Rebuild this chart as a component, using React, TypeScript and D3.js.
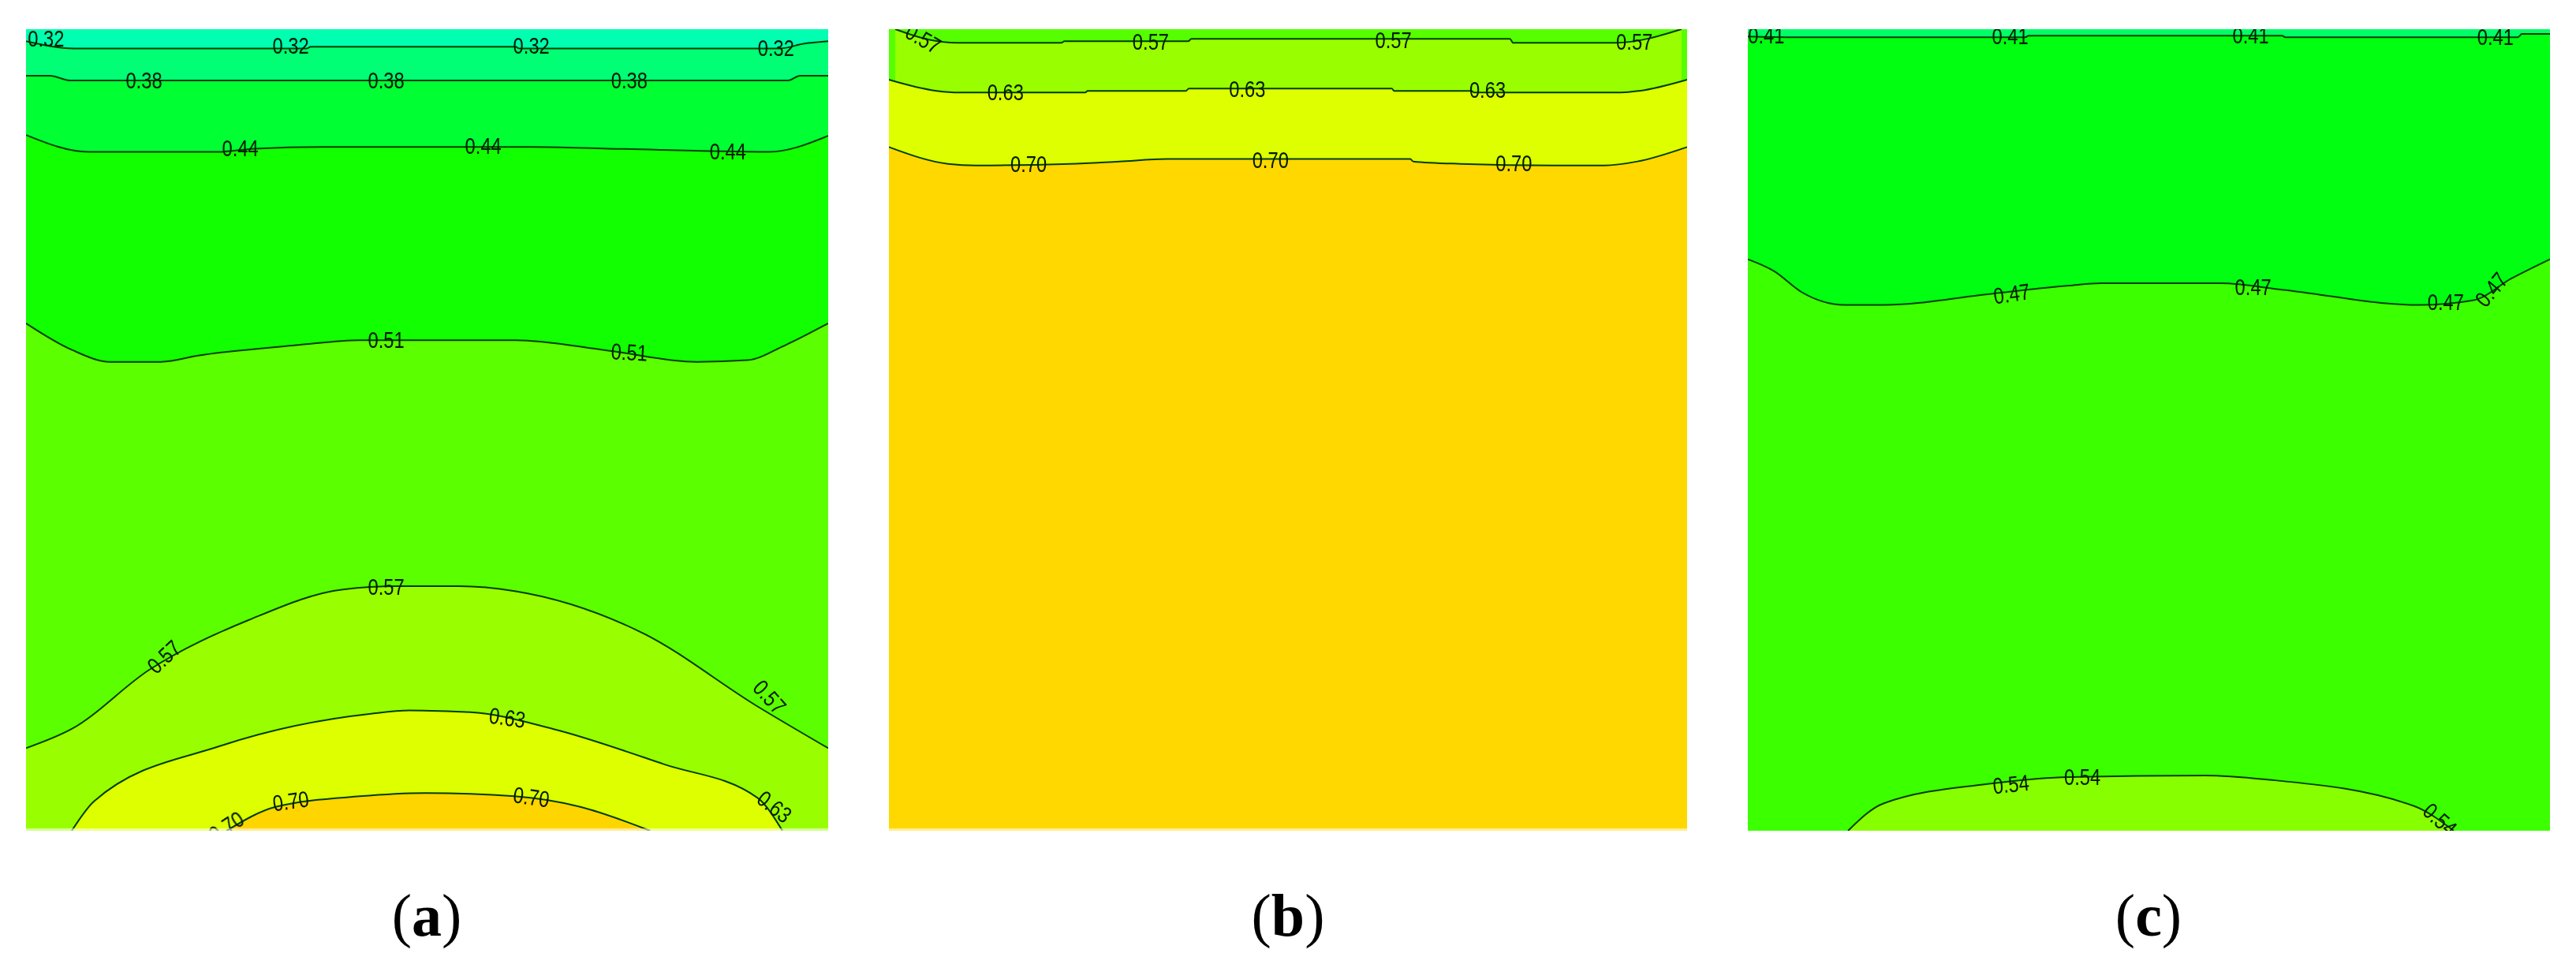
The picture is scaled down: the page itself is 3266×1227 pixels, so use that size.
import React, { useEffect, useRef } from "react";
import * as d3 from "d3";

type Pt = [number, number];
// label: x %, y %, rotation
type Lbl = [number, number, number];

const WIDTH = 3266;
const HEIGHT = 1227;

const a032: Pt[] = [[0, 1.5], [6, 2.4], [35, 2.4], [35.5, 2.2], [61, 2.2], [61.5, 2.4], [94, 2.4], [97, 1.8], [100, 1.5]];
const a038: Pt[] = [[0, 5.8], [3, 5.8], [5.5, 6.4], [95, 6.4], [96.5, 5.8], [100, 5.8]];
const a044: Pt[] = [[0, 13.2], [7.8, 15.3], [24, 15.3], [28.5, 14.9], [37, 14.7], [63, 14.7], [72.6, 14.9], [92.6, 15.3], [100, 13.3]];
const a051: Pt[] = [[0, 36.7], [5.7, 40], [10.5, 41.5], [16.8, 41.5], [21.6, 40.7], [34, 39.4], [41.6, 38.8], [61, 38.8], [72.6, 40.1], [83.6, 41.5], [89.9, 41.3], [94.7, 39.4], [100, 36.7]];
const a057: Pt[] = [[0, 89.7], [5.7, 87.3], [15.4, 79.9], [27.8, 73.7], [39.5, 69.9], [46.4, 69.5], [54, 69.5], [60.9, 70.1], [76.8, 75.3], [91.2, 84.5], [100, 89.7]];
const a063: Pt[] = [[5.7, 100], [8.5, 96.3], [24.3, 89.4], [43, 85.4], [47.8, 85], [55.4, 85.2], [65.7, 87.3], [79.5, 91.7], [91.2, 95.9], [94.3, 100]];
const a070: Pt[] = [[25, 100], [31.2, 97], [41.6, 95.7], [49.9, 95.3], [60.9, 95.7], [69, 97], [77.8, 100]];

const b057: Pt[] = [[0.8, 0], [5, 1.3], [8.5, 1.7], [21.6, 1.7], [22, 1.5], [37.5, 1.5], [37.9, 1.2], [77.8, 1.2], [78.2, 1.7], [91, 1.7], [99.3, 0]];
const b063: Pt[] = [[0, 6.3], [6, 7.7], [8.8, 7.9], [24.6, 7.9], [24.9, 7.7], [37.2, 7.7], [37.6, 7.4], [63, 7.4], [63.3, 7.7], [73, 7.7], [73.3, 7.9], [91.7, 7.9], [94, 7.7], [100, 6.3]];
const b070: Pt[] = [[0, 14.7], [7.4, 16.8], [10.9, 17], [22.7, 16.8], [28.9, 16.5], [34.8, 16.2], [65.3, 16.2], [65.7, 16.5], [71.6, 16.8], [83.3, 17], [89.6, 17], [93.8, 16.5], [100, 14.7]];

const c041: Pt[] = [[0, 0.9], [6, 1], [34.6, 1], [35, 0.8], [66.6, 0.8], [67, 1], [96, 1], [96.5, 0.6], [100, 0.6]];
const c047: Pt[] = [[0, 28.7], [3.3, 30.2], [6.7, 32.8], [12.1, 34.4], [16.9, 34.4], [30.5, 33], [40, 32], [44, 31.7], [59, 31.7], [66.6, 32.5], [83.7, 34.4], [90.5, 33.8], [95.2, 31.1], [100, 28.7]];
const c054: Pt[] = [[12.5, 100], [16.9, 96.6], [30.5, 94.1], [40, 93.3], [57, 93.1], [64.6, 93.6], [83, 96.9], [88, 100]];

const levelsA = ["0.32", "0.38", "0.44", "0.51", "0.57", "0.63", "0.70"];
const levelsB = ["0.57", "0.63", "0.70"];
const levelsC = ["0.41", "0.47", "0.54"];

// first colour is what sits above the first contour
const coloursA = ["#00ffb0", "#00ff75", "#00ff33", "#11ff00", "#5cff00", "#99ff00", "#ddff00", "#ffd500"];
const coloursB = ["#55ff00", "#99ff00", "#ddff00", "#ffd800"];
const coloursC = ["#00ff66", "#00ff11", "#3cff00", "#88ff00"];

const labelsA: Lbl[][] = [
  [[2.5, 1.2, 0], [33, 2.1, 0], [63, 2.1, 0], [93.5, 2.4, 0]],
  [[14.7, 6.4, 0], [44.9, 6.4, 0], [75.2, 6.4, 0]],
  [[26.7, 14.9, 0], [57, 14.6, 0], [87.5, 15.2, 0]],
  [[44.9, 38.8, 0], [75.2, 40.3, 3]],
  [[44.9, 69.6, 0], [17.2, 78.3, -43], [92.7, 83.3, 48]],
  [[60, 85.9, 8], [93.3, 97, 38]],
  [[33, 96.3, -8], [63, 95.8, 8], [25, 99.5, -33]],
];
const labelsB: Lbl[][] = [
  [[4.3, 1.2, 30], [32.8, 1.6, 0], [63.2, 1.4, 0], [93.4, 1.6, 0]],
  [[14.6, 7.9, 0], [44.9, 7.5, 0], [75, 7.6, 0]],
  [[17.5, 16.8, 0], [47.8, 16.3, 0], [78.3, 16.7, 0]],
];
const labelsC: Lbl[][] = [
  [[2.3, 0.8, 0], [32.7, 0.9, 0], [62.7, 0.8, 0], [93.2, 1, 0]],
  [[32.9, 33, -8], [63, 32.2, 0], [87, 34, 0], [92.7, 32.5, -50]],
  [[32.8, 94.2, -6], [41.7, 93.3, 0], [86.3, 98.6, 42]],
];

const panels = [
  { id: "a", left: 33, right: 1050, levels: levelsA, colours: coloursA, labels: labelsA, lines: [a032, a038, a044, a051, a057, a063, a070], cx: 541, pale: true },
  { id: "b", left: 1127, right: 2139, levels: levelsB, colours: coloursB, labels: labelsB, lines: [b057, b063, b070], cx: 1633, pale: true },
  { id: "c", left: 2216, right: 3233, levels: levelsC, colours: coloursC, labels: labelsC, lines: [c041, c047, c054], cx: 2724, pale: false },
];

const App: React.FC = () => {
  const svgRef = useRef<SVGSVGElement | null>(null);

  useEffect(() => {
    if (!svgRef.current) return;
    const svg = d3.select(svgRef.current);
    svg.selectAll("*").remove();

    const top = 37;
    const bottom = 1053;
    const y = d3.scaleLinear().domain([0, 100]).range([top, bottom]);

    const defs = svg.append("defs");
    defs
      .append("filter")
      .attr("id", "soft")
      .append("feGaussianBlur")
      .attr("stdDeviation", 0.6);

    panels.forEach((p) => {
      const x = d3.scaleLinear().domain([0, 100]).range([p.left, p.right]);

      defs
        .append("clipPath")
        .attr("id", `clip-${p.id}`)
        .append("rect")
        .attr("x", p.left)
        .attr("y", top)
        .attr("width", p.right - p.left)
        .attr("height", bottom - top);

      const g = svg.append("g").attr("clip-path", `url(#clip-${p.id})`);

      g.append("rect")
        .attr("x", p.left)
        .attr("y", top)
        .attr("width", p.right - p.left)
        .attr("height", bottom - top)
        .attr("fill", p.colours[0]);

      // each band runs from its contour down to the panel bottom, drawn top first
      const area = d3
        .area<Pt>()
        .curve(d3.curveMonotoneX)
        .x((d) => x(d[0]))
        .y0(bottom)
        .y1((d) => y(d[1]));
      const line = d3
        .line<Pt>()
        .curve(d3.curveMonotoneX)
        .x((d) => x(d[0]))
        .y((d) => y(d[1]));

      p.lines.forEach((pts, i) => {
        g.append("path").datum(pts).attr("fill", p.colours[i + 1]).attr("d", area);
      });

      const ink = g.append("g").attr("filter", "url(#soft)");
      p.lines.forEach((pts) => {
        ink
          .append("path")
          .datum(pts)
          .attr("fill", "none")
          .attr("stroke", "#063c00")
          .attr("stroke-width", 2)
          .attr("d", line);
      });

      p.labels.forEach((row, i) => {
        row.forEach((l) => {
          ink
            .append("text")
            .attr("transform", `translate(${x(l[0])},${y(l[1])}) rotate(${l[2]}) scale(0.95,1.15)`)
            .attr("text-anchor", "middle")
            .attr("dy", "0.35em")
            .attr("font-family", "Liberation Sans")
            .attr("font-size", 25)
            .attr("fill", "#021a00")
            .text(p.levels[i]);
        });
      });

      // the export left a faint pale row along the bottom of a and b
      if (p.pale) {
        g.append("rect")
          .attr("x", p.left)
          .attr("y", bottom - 3)
          .attr("width", p.right - p.left)
          .attr("height", 3)
          .attr("fill", "#fff")
          .attr("opacity", 0.55);
      }

      // caption, the letter is bold
      const cap = svg
        .append("text")
        .attr("x", p.cx)
        .attr("y", 1186)
        .attr("text-anchor", "middle")
        .attr("font-family", "Liberation Serif")
        .attr("font-size", 76)
        .attr("fill", "#000");
      cap.append("tspan").text("(");
      cap.append("tspan").attr("font-weight", "bold").text(p.id);
      cap.append("tspan").text(")");
    });
  }, []);

  return (
    <svg
      ref={svgRef}
      width={WIDTH}
      height={HEIGHT}
      style={{ position: "absolute", left: 0, top: 0, display: "block", background: "#fff" }}
    />
  );
};

export default App;
